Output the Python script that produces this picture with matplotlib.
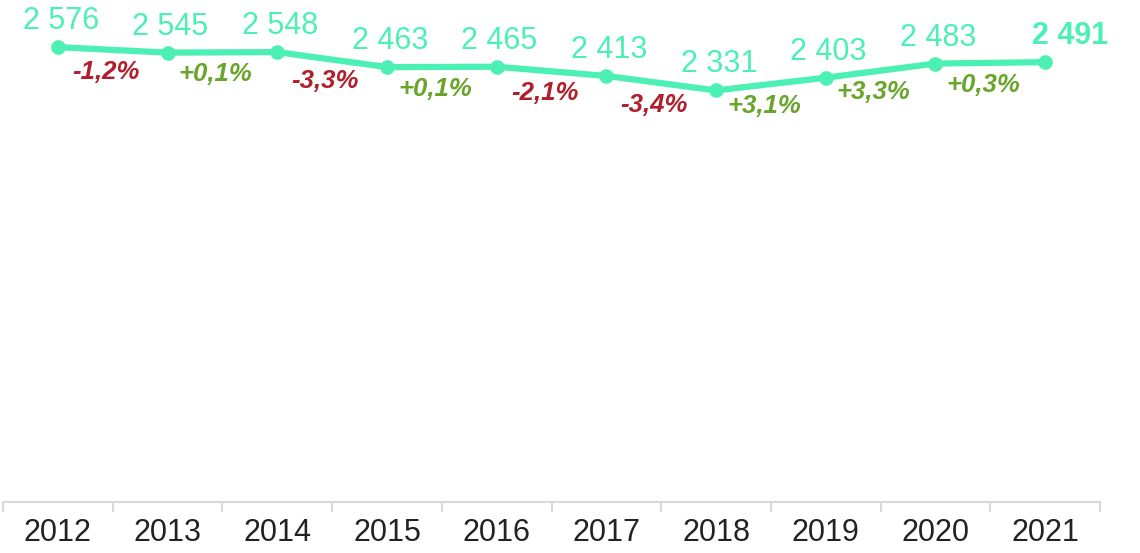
import matplotlib.pyplot as plt

years = ['2012', '2013', '2014', '2015', '2016', '2017', '2018', '2019', '2020', '2021']
values = [2576, 2545, 2548, 2463, 2465, 2413, 2331, 2403, 2483, 2491]
changes = ['-1,2%', '+0,1%', '-3,3%', '+0,1%', '-2,1%', '-3,4%', '+3,1%', '+3,3%', '+0,3%']

LINE = '#4cf0b5'
RED = '#b01f2b'
GREEN = '#69a52a'

plt.rcParams['font.family'] = ['Liberation Sans', 'DejaVu Sans']

fig = plt.figure(figsize=(11.4, 5.53), dpi=100)
ax = fig.add_axes([3 / 1140, 51 / 553, 1097 / 1140, 502 / 553])

x = list(range(len(years)))
ax.plot(x, values, color=LINE, lw=4.5, marker='o', ms=9.5, solid_capstyle='round')

for i, v in enumerate(values):
    label = f'{v:,}'.replace(',', ' ')
    last = i == len(values) - 1
    ax.annotate(label, (i, v), xytext=(18 if last else 2, 13),
                textcoords='offset points', ha='center', va='baseline',
                fontsize=22, color=LINE, fontweight='bold' if last else 'normal')

for i, c in enumerate(changes):
    xm = i + 0.5
    ym = (values[i] + values[i + 1]) / 2
    ax.annotate(c, (xm, ym), xytext=(-5, -7), textcoords='offset points',
                ha='center', va='top', fontsize=18.5, fontweight='bold',
                fontstyle='italic', color=RED if c.startswith('-') else GREEN)

ax.set_xlim(-0.5, len(years) - 0.5)
ax.set_ylim(0, 2843)
ax.set_yticks([])
for s in ['left', 'right', 'top']:
    ax.spines[s].set_visible(False)
ax.spines['bottom'].set_color('#d9d9d9')
ax.spines['bottom'].set_linewidth(1.5)

ax.set_xticks(x)
ax.set_xticklabels(years, fontsize=22, color='#222222')
ax.tick_params(axis='x', which='major', length=0, pad=11.5)
ax.set_xticks([i - 0.5 for i in range(len(years) + 1)], minor=True)
ax.tick_params(axis='x', which='minor', length=7, width=1.5, color='#d9d9d9')

fig.savefig('out.png', dpi=100)
